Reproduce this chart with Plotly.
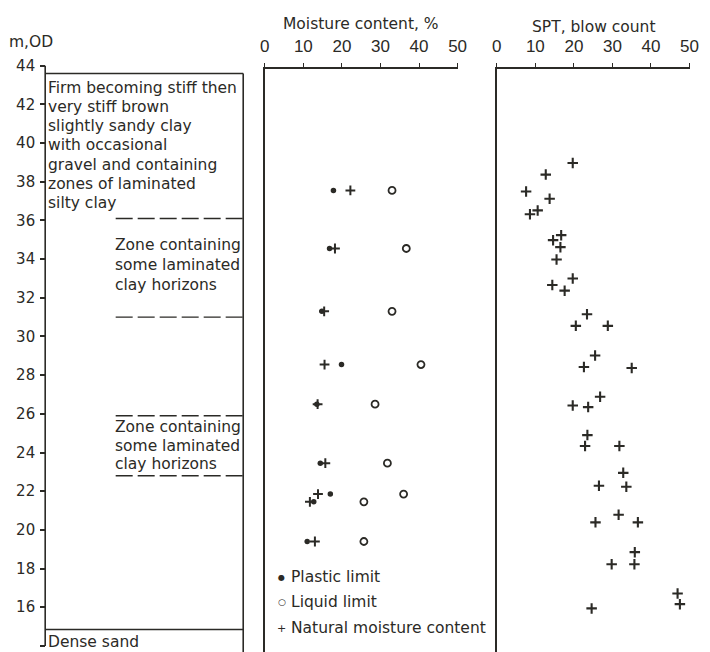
import plotly.graph_objects as go

# ---------------- data ----------------
# Elevation of each laboratory sample (m OD)
sample_level = [37.55, 34.55, 31.3, 28.55, 26.5, 23.45, 21.85, 21.45, 19.4]
plastic_limit = [17.8, 16.8, 14.8, 19.9, 13.5, 14.4, 17.0, 12.7, 11.0]
liquid_limit = [33.0, 36.7, 33.0, 40.5, 28.6, 31.8, 36.0, 25.7, 25.7]
natural_moisture = [22.2, 18.2, 15.4, 15.5, 13.7, 15.7, 13.8, 11.7, 13.0]

# SPT results
spt_level = [38.97, 38.37, 37.50, 37.12, 36.52, 36.32, 35.24, 34.98, 34.62, 33.98,
             33.00, 32.66, 32.37, 31.15, 30.55, 30.55, 29.02, 28.42, 28.37, 26.88,
             26.43, 26.35, 24.90, 24.34, 24.34, 22.95, 22.28, 22.23, 20.78, 20.39,
             20.39, 18.85, 18.22, 18.22, 16.71, 16.16, 15.94]
spt_blows = [19.7, 12.7, 7.6, 13.7, 10.6, 8.6, 16.7, 14.6, 16.5, 15.5,
             19.7, 14.4, 17.6, 23.4, 20.5, 28.8, 25.5, 22.6, 35.0, 26.8,
             19.7, 23.7, 23.5, 22.9, 31.8, 32.8, 26.5, 33.6, 31.6, 25.6,
             36.6, 35.8, 29.8, 35.7, 46.9, 47.5, 24.6]

# Borehole log: stratum boundaries (m OD)
log_top = 43.6
log_base = 14.85
zone_boundaries = [36.1, 31.0, 25.9, 22.8]

elevation_ticks = list(range(14, 46, 2))
percent_ticks = [0, 10, 20, 30, 40, 50]

description_lines = ["Firm becoming stiff then", "very stiff brown", "slightly sandy clay",
                     "with occasional", "gravel and containing", "zones of laminated",
                     "silty clay"]
zone_text = ["Zone containing", "some laminated", "clay horizons"]

# ---------------- styling ----------------
W, H = 710, 652
INK = "#2b2a26"
FONT = "DejaVu Sans"
PX_PER_M = 19.43
Y44 = 63.0  # pixel row of the 44 m OD level


def el(py):
    """elevation at a pixel row"""
    return 44 - (py - Y44) / PX_PER_M


def fx(px):
    return px / W


def fy(py):
    return 1 - py / H


fig = go.Figure()

# moisture content panel
fig.add_trace(go.Scatter(x=plastic_limit, y=sample_level, mode="markers", name="Plastic limit",
                         xaxis="x2", yaxis="y2",
                         marker=dict(symbol="circle", size=5.5, color=INK, line=dict(width=0))))
fig.add_trace(go.Scatter(x=liquid_limit, y=sample_level, mode="markers", name="Liquid limit",
                         xaxis="x2", yaxis="y2",
                         marker=dict(symbol="circle-open", size=7, color=INK, line=dict(width=1.8, color=INK))))
fig.add_trace(go.Scatter(x=natural_moisture, y=sample_level, mode="markers", name="Natural moisture content",
                         xaxis="x2", yaxis="y2",
                         marker=dict(symbol="cross-thin-open", size=7, color=INK, line=dict(width=2, color=INK))))

# SPT panel
fig.add_trace(go.Scatter(x=spt_blows, y=spt_level, mode="markers", name="SPT",
                         xaxis="x3", yaxis="y3",
                         marker=dict(symbol="cross-thin-open", size=7.5, color=INK, line=dict(width=2.1, color=INK))))

# ---------------- borehole log shapes ----------------
shapes = []
lw = 1.6
# elevation axis line
shapes.append(dict(type="line", xref="x", yref="y", x0=0, x1=0, y0=14, y1=44,
                   line=dict(color=INK, width=lw)))
# top of log
shapes.append(dict(type="line", xref="x", yref="y", x0=0, x1=1, y0=log_top, y1=log_top,
                   line=dict(color=INK, width=lw)))
# right side of log
shapes.append(dict(type="line", xref="x", yref="y", x0=1, x1=1, y0=el(H), y1=log_top,
                   line=dict(color=INK, width=lw)))
# base of clay
shapes.append(dict(type="line", xref="x", yref="y", x0=0, x1=1, y0=log_base, y1=log_base,
                   line=dict(color=INK, width=lw)))
for b in zone_boundaries:
    shapes.append(dict(type="line", xref="x", yref="y", x0=0.356, x1=1, y0=b, y1=b,
                       line=dict(color=INK, width=1.4, dash="17px,5px")))

# ---------------- text ----------------
annotations = []
txt = dict(family=FONT, size=15.5, color=INK)

for i, line in enumerate(description_lines):
    annotations.append(dict(xref="x", yref="y", x=0.004, y=42.85 - i * 0.99, text=line,
                            showarrow=False, xanchor="left", yanchor="middle", font=txt))
for line, lev in zip(zone_text, [34.75, 33.68, 32.68]):
    annotations.append(dict(xref="x", yref="y", x=0.342, y=lev, text=line,
                            showarrow=False, xanchor="left", yanchor="middle", font=txt))
for line, lev in zip(zone_text, [25.3, 24.36, 23.42]):
    annotations.append(dict(xref="x", yref="y", x=0.342, y=lev, text=line,
                            showarrow=False, xanchor="left", yanchor="middle", font=txt))
annotations.append(dict(xref="x", yref="y", x=0.004, y=14.22, text="Dense sand",
                        showarrow=False, xanchor="left", yanchor="middle", font=txt))

annotations.append(dict(xref="paper", yref="paper", x=fx(2), y=fy(39), text="m,OD",
                        showarrow=False, xanchor="left", yanchor="middle", font=txt))
annotations.append(dict(xref="paper", yref="paper", x=fx(363), y=fy(21.5), text="Moisture content, %",
                        showarrow=False, xanchor="center", yanchor="middle", font=txt))
annotations.append(dict(xref="paper", yref="paper", x=fx(600), y=fy(24), text="SPT, blow count",
                        showarrow=False, xanchor="center", yanchor="middle", font=txt))

# key for the moisture content symbols
key = [("●", 8, "Plastic limit", 577),
       ("○", 9, "Liquid limit", 602),
       ("+", 11, "Natural moisture content", 628)]
for glyph, gsize, label, row in key:
    annotations.append(dict(xref="paper", yref="paper", x=fx(282.5), y=fy(row), text=glyph,
                            showarrow=False, xanchor="center", yanchor="middle",
                            font=dict(family=FONT, size=gsize, color=INK)))
    annotations.append(dict(xref="paper", yref="paper", x=fx(290), y=fy(row), text=label,
                            showarrow=False, xanchor="left", yanchor="middle", font=txt))

# ---------------- axes ----------------
tick_font_top = dict(family="Liberation Sans", size=17, color=INK)

top_axis = dict(range=[0, 50], side="top", tickvals=percent_ticks, ticks="outside",
                ticklen=4, tickwidth=1.4, tickcolor=INK, showline=True, linewidth=lw,
                linecolor=INK, showgrid=False, zeroline=False, tickfont=tick_font_top,
                ticklabelstandoff=4)
panel_y = dict(range=[el(H), el(66)], domain=[0, fy(66)], showline=True, linewidth=lw,
               linecolor=INK, showticklabels=False, ticks="", showgrid=False, zeroline=False)

fig.update_layout(
    width=W, height=H,
    margin=dict(l=0, r=0, t=0, b=0),
    paper_bgcolor="white", plot_bgcolor="rgba(0,0,0,0)",
    showlegend=False,
    xaxis=dict(range=[-0.05, 1.05], domain=[fx(41 - 0.05 * 202), fx(243 + 0.05 * 202)],
               visible=False),
    yaxis=dict(range=[el(H), el(57)], domain=[0, fy(57)], anchor="free", position=fx(41),
               tickvals=elevation_ticks, ticks="outside", ticklen=5, tickwidth=1.5,
               tickcolor=INK, showline=False, showgrid=False, zeroline=False,
               tickfont=dict(family=FONT, size=15, color=INK), ticklabelstandoff=2),
    xaxis2=dict(domain=[fx(265), fx(461.7)], anchor="y2", **top_axis),
    yaxis2=dict(anchor="x2", **panel_y),
    xaxis3=dict(domain=[fx(501.7), fx(698.3)], anchor="y3", **top_axis),
    yaxis3=dict(anchor="x3", **panel_y),
    shapes=shapes,
    annotations=annotations,
)

fig.write_html("out.html")
